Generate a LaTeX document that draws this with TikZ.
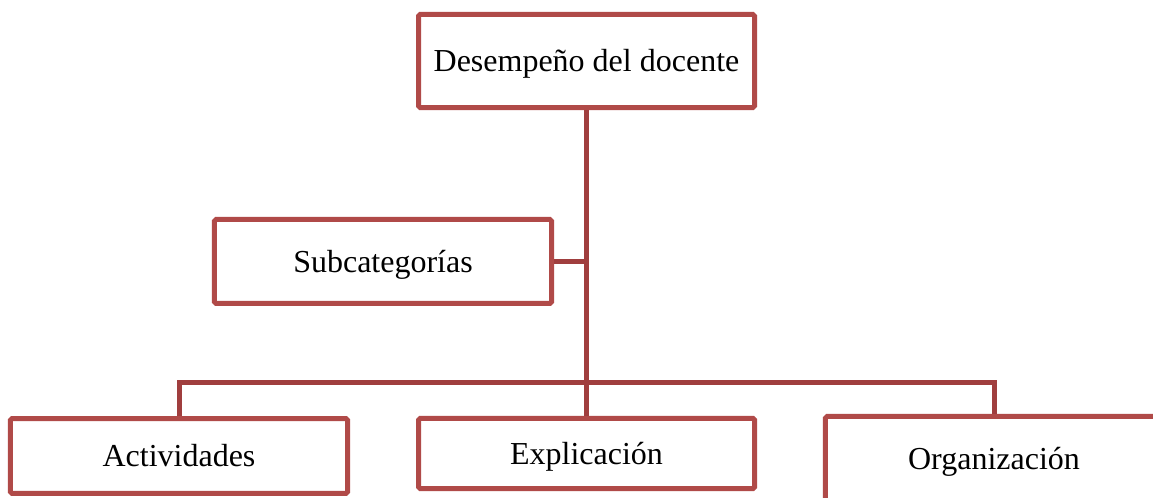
\documentclass[tikz,border=0pt]{standalone}
\usepackage{fontspec}
\setmainfont{Liberation Serif}
\definecolor{boxred}{RGB}{176,74,72}
\definecolor{linered}{RGB}{160,62,62}
\tikzset{
  catbox/.style={draw=boxred, line width=1.875pt, rounded corners=0.6pt,
    inner sep=0pt, minimum width=126.4pt, text height=8pt, text depth=0pt,
    font=\fontsize{12}{14}\selectfont},
  link/.style={draw=linered, line width=1.875pt}
}

\begin{document}
\begin{tikzpicture}[x=0.375pt, y=-0.375pt]
  \useasboundingbox (0,0) rectangle (1153,498);
  \clip (0,0) rectangle (1153,498);
  % boxes
  \node[catbox, minimum width=126pt, minimum height=34.9pt] (top) at (586.5,61) {Desempe\~no del docente};
  \node[catbox, minimum height=31.5pt] (sub) at (383,261.5) {Subcategor\'ias};
  \node[catbox, minimum height=28.1pt] (act) at (179,456) {Actividades};
  \node[catbox, minimum width=126pt, minimum height=26.3pt] (exp) at (586.5,453.5) {Explicaci\'on};
  \node[catbox, minimum height=31.9pt] (org) at (994,459) {Organizaci\'on};
  % connectors
  \coordinate (bar) at (586.5,383);
  \draw[link] (top.south) -- (exp.north);
  \draw[link] (sub.east) -- (sub.east -| top.south);
  \draw[link] (act.north) |- (bar) -| (org.north);
\end{tikzpicture}
\end{document}
